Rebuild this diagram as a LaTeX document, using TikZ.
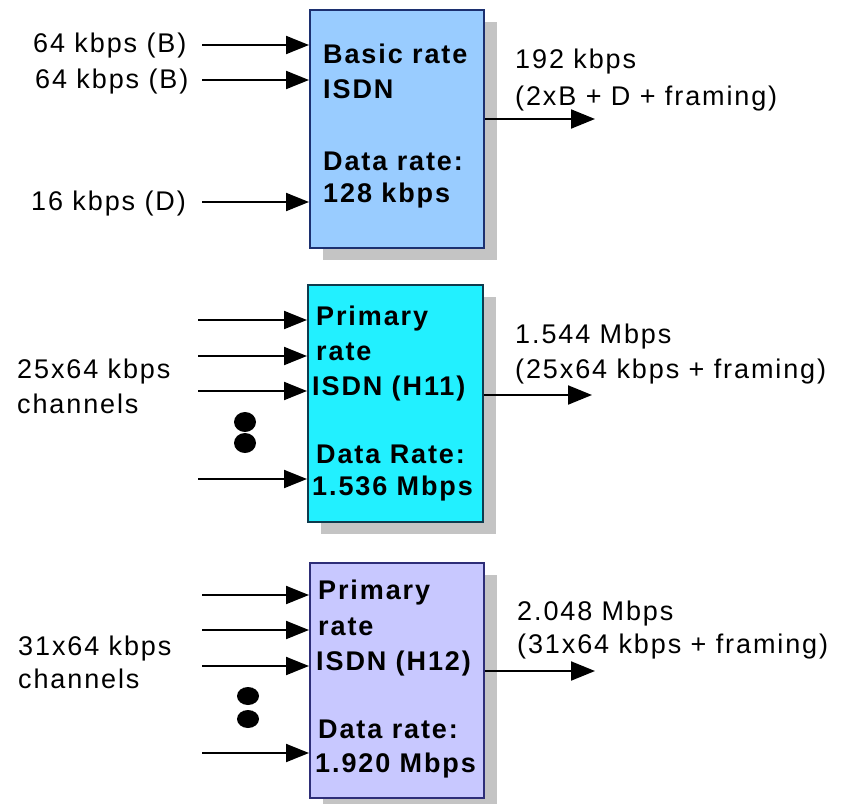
\documentclass[tikz,border=0pt]{standalone}
\usepackage{fontspec}
\setmainfont{Liberation Sans}[LetterSpace=7]
\usetikzlibrary{arrows.meta,shadows}
\definecolor{boxA}{HTML}{99CCFF}
\definecolor{boxB}{HTML}{22F0FF}
\definecolor{boxC}{HTML}{C8C8FF}
\definecolor{edgeA}{HTML}{1C3070}
\definecolor{edgeB}{HTML}{0E3B4E}
\definecolor{edgeC}{HTML}{2E2E78}
\definecolor{shadowgray}{HTML}{C4C4C4}
\begin{document}
\begin{tikzpicture}[x=1pt,y=-1pt,
  font=\fontsize{27}{32}\selectfont,
  box/.style={draw, line width=1.5pt, anchor=north west, inner sep=0pt,
    drop shadow={shadow xshift=13pt, shadow yshift=-12pt, fill=shadowgray, opacity=1}},
  lbl/.style={anchor=base west, inner sep=0pt},
  btxt/.style={lbl, font=\fontsize{27}{32}\selectfont\bfseries},
  inarrow/.style={line width=2pt, -{Triangle[length=23pt,width=18pt]}},
  outarrow/.style={line width=2pt, -{Triangle[length=24pt,width=19pt]}},
  dot/.style={fill=black}]
\useasboundingbox (0,0) rectangle (850,803);

% boxes
\node[box, fill=boxA, draw=edgeA, minimum width=174pt, minimum height=238pt] (b1) at (309,9) {};
\node[box, fill=boxB, draw=edgeB, minimum width=175pt, minimum height=237pt] (b2) at (307,284) {};
\node[box, fill=boxC, draw=edgeC, minimum width=174pt, minimum height=235pt] (b3) at (309,562) {};

% box 1 text
\node[btxt] (t11) at (323,63) {Basic rate};
\node[btxt] (t12) at (323,98) {ISDN};
\node[btxt] (t13) at (323,170) {Data rate:};
\node[btxt] (t14) at (323,202) {128 kbps};
% box 2 text
\node[btxt] (t21) at (316,325) {Primary};
\node[btxt] (t22) at (316,360) {rate};
\node[btxt] (t23) at (312,395) {ISDN (H11)};
\node[btxt] (t24) at (316,463) {Data Rate:};
\node[btxt] (t25) at (312,495) {1.536 Mbps};
% box 3 text
\node[btxt] (t31) at (318,599) {Primary};
\node[btxt] (t32) at (318,635) {rate};
\node[btxt] (t33) at (316,670) {ISDN (H12)};
\node[btxt] (t34) at (318,738) {Data rate:};
\node[btxt] (t35) at (315,772) {1.920 Mbps};

% left labels
\node[lbl] (l11) at (33,52) {64 kbps (B)};
\node[lbl] (l12) at (35,88) {64 kbps (B)};
\node[lbl] (l13) at (31,210) {16 kbps (D)};
\node[lbl] (l21) at (17,378) {25x64 kbps};
\node[lbl] (l22) at (17,413) {channels};
\node[lbl] (l31) at (18,655) {31x64 kbps};
\node[lbl] (l32) at (18,688) {channels};

% right labels
\node[lbl] (r11) at (515,68) {192 kbps};
\node[lbl] (r12) at (515,105) {(2xB + D + framing)};
\node[lbl] (r21) at (515,343) {1.544 Mbps};
\node[lbl] (r22) at (515,378) {(25x64 kbps + framing)};
\node[lbl] (r31) at (517,620) {2.048 Mbps};
\node[lbl] (r32) at (517,653) {(31x64 kbps + framing)};

% input arrows box 1
\coordinate (i11) at (202,45);
\coordinate (i12) at (202,80);
\coordinate (i13) at (202,202);
\foreach \c in {i11,i12,i13} \draw[inarrow] (\c) -- (\c -| b1.west);
% input arrows box 2
\coordinate (i21) at (198,320);
\coordinate (i22) at (198,356);
\coordinate (i23) at (198,391);
\coordinate (i24) at (198,479);
\foreach \c in {i21,i22,i23,i24} \draw[inarrow] (\c) -- (\c -| b2.west);
% input arrows box 3
\coordinate (i31) at (202,595);
\coordinate (i32) at (202,630);
\coordinate (i33) at (202,666);
\coordinate (i34) at (202,753);
\foreach \c in {i31,i32,i33,i34} \draw[inarrow] (\c) -- (\c -| b3.west);

% output arrows
\coordinate (o1) at (595,119);
\coordinate (o2) at (592,395);
\coordinate (o3) at (595,671);
\draw[outarrow] (o1 -| b1.east) -- (o1);
\draw[outarrow] (o2 -| b2.east) -- (o2);
\draw[outarrow] (o3 -| b3.east) -- (o3);

% ellipsis dots
\fill[dot] (245,422) ellipse [x radius=11pt, y radius=10pt];
\fill[dot] (245,443) ellipse [x radius=11pt, y radius=10pt];
\fill[dot] (248,696) ellipse [x radius=11pt, y radius=9pt];
\fill[dot] (248,719) ellipse [x radius=11pt, y radius=9pt];
\end{tikzpicture}
\end{document}
